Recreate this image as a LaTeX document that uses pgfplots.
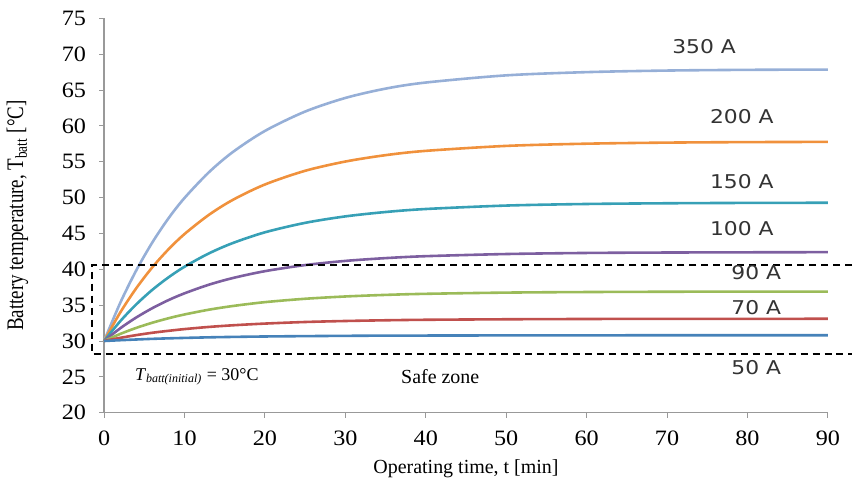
\documentclass[border=0pt]{standalone}
\usepackage{pgfplots}
\pgfplotsset{compat=1.18}
\usepackage{fontspec}
\setmainfont{Liberation Serif}
\newfontfamily\labfont{DejaVu Sans}
\definecolor{c350}{RGB}{150,175,215}
\definecolor{c200}{RGB}{240,145,60}
\definecolor{c150}{RGB}{55,160,182}
\definecolor{c100}{RGB}{125,95,160}
\definecolor{c90}{RGB}{155,187,89}
\definecolor{c70}{RGB}{192,80,77}
\definecolor{c50}{RGB}{70,130,185}
\newcommand{\cl}[1]{\scalebox{1.15}[1]{#1}}
\begin{document}
\begin{tikzpicture}
\begin{axis}[
  scale only axis,
  width=362.5pt, height=197.5pt,
  xmin=0, xmax=90, ymin=20, ymax=75,
  xtick={0,10,...,90}, ytick={20,25,...,75},
  axis lines=left,
  axis line style={gray!80, line width=0.6pt, -},
  tick style={gray!80, line width=0.5pt},
  tick align=outside, major tick length=2.5pt,
  x tick label style={font=\fontsize{11}{12}\selectfont, yshift=-3pt},
  y tick label style={font=\fontsize{11}{12}\selectfont, xshift=-3pt},
  xticklabel={\scalebox{1.1}[1]{\pgfmathprintnumber{\tick}}},
  yticklabel={\scalebox{1.1}[1]{\pgfmathprintnumber{\tick}}},
  /pgf/number format/assume math mode=true,
  xlabel={Operating time, t [min]},
  ylabel={\scalebox{1}[1.25]{Battery temperature, T\textsubscript{batt} [°C]}},
  xlabel style={font=\fontsize{10}{12}\selectfont, yshift=0pt},
  ylabel style={font=\fontsize{9.5}{12}\selectfont, yshift=10pt},
  clip=false,
  every axis plot/.append style={line width=1.3pt, smooth},
]
\addplot[c350] coordinates {(0,30) (2,35.30) (4,39.85) (6,43.75) (8,47.10) (10,49.95) (13,53.50) (16,56.35) (20,59.30) (25,62.00) (30,63.90) (35,65.20) (40,66.05) (50,67.05) (60,67.50) (70,67.72) (80,67.82) (90,67.86)};
\addplot[c200] coordinates {(0,30) (2,33.96) (4,37.36) (6,40.28) (8,42.78) (10,44.92) (13,47.57) (16,49.68) (20,51.83) (25,53.74) (30,55.03) (35,55.92) (40,56.52) (50,57.21) (60,57.52) (70,57.67) (80,57.74) (90,57.77)};
\addplot[c150] coordinates {(0,30) (2,32.75) (4,35.11) (6,37.14) (8,38.87) (10,40.36) (13,42.20) (16,43.66) (20,45.16) (25,46.48) (30,47.38) (35,47.99) (40,48.41) (50,48.89) (60,49.11) (70,49.21) (80,49.26) (90,49.28)};
\addplot[c100] coordinates {(0,30) (2,31.77) (4,33.28) (6,34.58) (8,35.70) (10,36.65) (13,37.84) (16,38.78) (20,39.74) (25,40.59) (30,41.17) (35,41.56) (40,41.83) (50,42.13) (60,42.28) (70,42.34) (80,42.37) (90,42.39)};
\addplot[c90] coordinates {(0,30) (2,30.98) (4,31.83) (6,32.55) (8,33.17) (10,33.70) (13,34.36) (16,34.88) (20,35.42) (25,35.89) (30,36.21) (35,36.43) (40,36.58) (50,36.75) (60,36.83) (70,36.87) (80,36.89) (90,36.89)};
\addplot[c70] coordinates {(0,30) (2,30.44) (4,30.82) (6,31.15) (8,31.42) (10,31.66) (13,31.96) (16,32.19) (20,32.43) (25,32.65) (30,32.79) (35,32.89) (40,32.96) (50,33.03) (60,33.07) (70,33.09) (80,33.09) (90,33.10)};
\addplot[c50] coordinates {(0,30) (2,30.11) (4,30.21) (6,30.30) (8,30.37) (10,30.43) (13,30.51) (16,30.57) (20,30.63) (25,30.68) (30,30.72) (35,30.75) (40,30.76) (50,30.78) (60,30.79) (70,30.80) (80,30.80) (90,30.80)};
\addplot[black, dashed, line width=1pt, sharp plot, dash pattern=on 3.5pt off 2.5pt] coordinates {(93,40.6) (-1.5,40.6) (-1.5,28.2) (93,28.2)};
\begin{scope}[every node/.style={font=\labfont\fontsize{9.5}{11}\selectfont, inner sep=0pt, text=black!80}]
\node at (axis cs:74.6,71.0) {\cl{350 A}};
\node at (axis cs:79.3,61.3) {\cl{200 A}};
\node at (axis cs:79.3,52.2) {\cl{150 A}};
\node at (axis cs:79.3,45.7) {\cl{100 A}};
\node at (axis cs:81.1,39.5) {\cl{90 A}};
\node at (axis cs:81.1,34.6) {\cl{70 A}};
\node at (axis cs:81.1,26.3) {\cl{50 A}};
\end{scope}
\node[anchor=west, inner sep=0pt, font=\fontsize{9}{11}\selectfont] at (axis cs:3.8,25.0) {\textit{T}\textsubscript{\textit{batt(initial)}} = 30°C};
\node[inner sep=0pt, font=\fontsize{10}{12}\selectfont] at (axis cs:41.8,25.0) {Safe zone};
\node[anchor=south, inner sep=0pt, minimum height=9pt, minimum width=1pt] at (rel axis cs:0,1) {};
\end{axis}
\end{tikzpicture}
\end{document}
